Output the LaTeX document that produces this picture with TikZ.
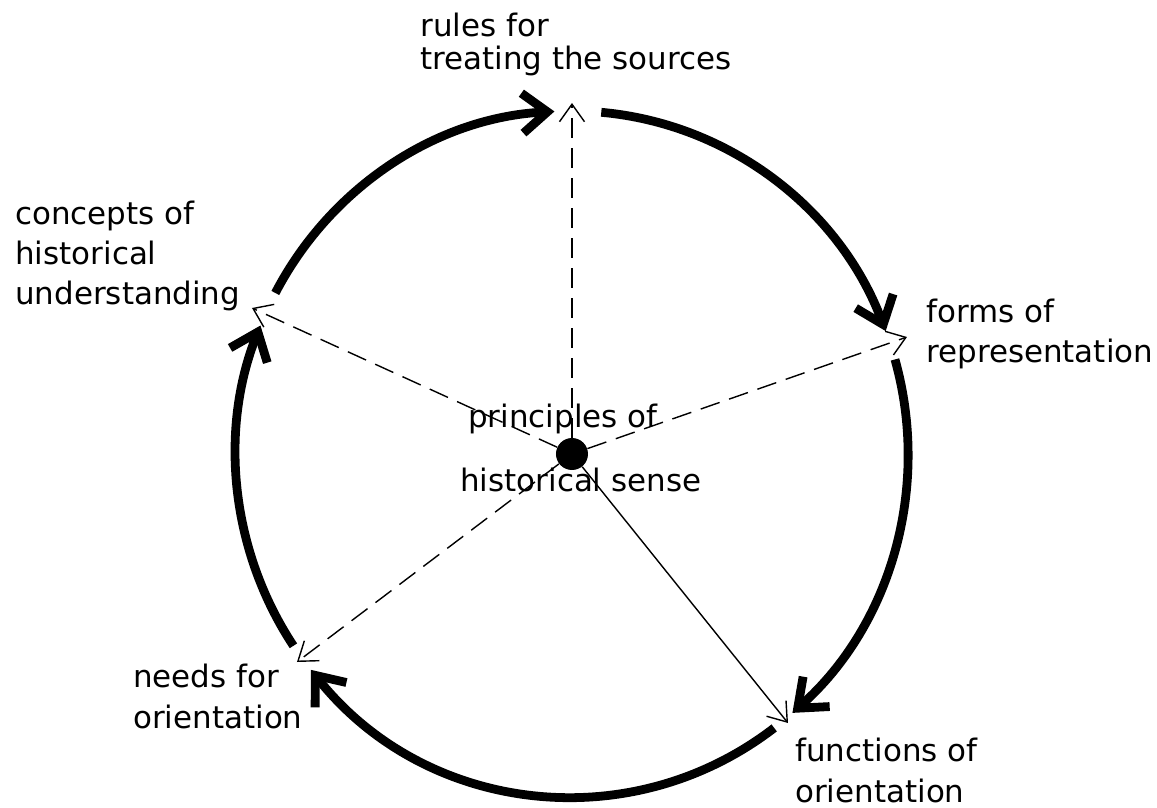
\documentclass[tikz,border=0pt]{standalone}
\usepackage{fontspec}
\setmainfont{DejaVu Sans}
\usetikzlibrary{arrows.meta, positioning}

\begin{document}
\begin{tikzpicture}[
    hub/.style={circle, fill=black, minimum size=0.64cm, inner sep=0pt},
    note/.style={anchor=base west, align=left, inner sep=0pt, font=\fontsize{17.6}{22.8}\selectfont},
    ring/.style={line width=5pt, -{Straight Barb[length=5mm,width=8mm]}},
    ray/.style={line width=0.8pt, dash pattern=on 0.4cm off 0.2cm, -{Straight Barb[length=3.5mm,width=5mm]}}
]
    \useasboundingbox (-11.44,-7.08) rectangle (11.7,9.08);

    \node[hub] (hub) at (0,0) {};

    % the cycle around the hub
    \foreach \a/\b in {85/21, 16/-49, -53/-141, 214/158, 152/93}
        \draw[ring] (\a:6.72cm and 6.86cm) arc[start angle=\a, end angle=\b, x radius=6.72cm, y radius=6.86cm];

    \coordinate (rulesTip) at (0,7.02);
    \coordinate (formsTip) at (6.7,2.34);
    \coordinate (functionsTip) at (4.32,-5.38);
    \coordinate (needsTip) at (-5.5,-4.16);
    \coordinate (conceptsTip) at (-6.4,2.92);

    \draw[ray] (hub) -- (rulesTip);
    \draw[ray] (hub) -- (formsTip);
    \draw[ray, solid] (hub) -- (functionsTip);
    \draw[ray] (hub) -- (needsTip);
    \draw[ray] (hub) -- (conceptsTip);

    % base west is the baseline of the last line
    \node[note, font=\fontsize{17.6}{18.8}\selectfont] (rules) at (-3.04,7.68) {rules for\\treating the sources};
    \node[note] (concepts) at (-11.14,2.98) {concepts of\\historical\\understanding};
    \node[note] (forms) at (7.08,1.82) {forms of\\representation};
    \node[note] (needs) at (-8.78,-5.48) {needs for\\orientation};
    \node[note] (functions) at (4.46,-6.96) {functions of\\orientation};
    \node[note] (principles) at (-2.08,0.54) {principles of};
    \node[note] (sense) at (-2.24,-0.76) {historical sense};
\end{tikzpicture}
\end{document}
